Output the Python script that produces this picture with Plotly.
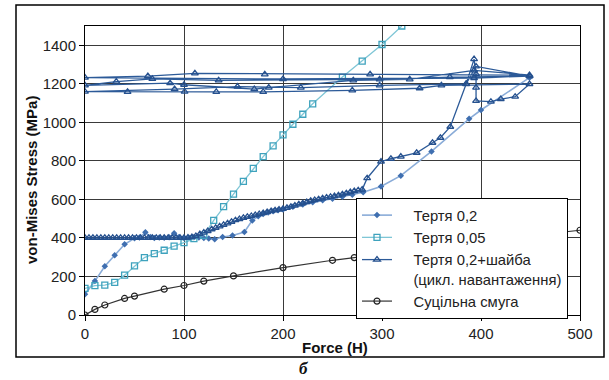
import plotly.graph_objects as go

# ---------------- data ----------------
# Тертя 0,2
f1_x = [0, 10, 20, 30, 40, 50, 55, 61, 66, 70, 75, 80, 85, 90, 95, 100, 105, 110, 115, 120, 125,
        131, 139, 149, 161, 169, 175, 180, 185, 190, 195, 200, 210, 220, 230, 240, 250, 260, 270,
        281, 299, 319, 350, 388, 400, 449]
f1_y = [108, 176, 253, 310, 367, 398, 402, 429, 405, 400, 402, 401, 403, 424, 405, 400, 401, 403,
        402, 400, 397, 393, 405, 413, 431, 491, 512, 524, 532, 538, 544, 548, 562, 574, 585, 595,
        604, 614, 624, 637, 667, 723, 849, 1018, 1064, 1232]

# Тертя 0,05
f2_x = [0, 10, 20, 30, 40, 50, 60, 70, 80, 90, 100, 110, 120, 130, 140, 150, 160, 170, 180, 190,
        200, 210, 220, 230, 260, 280, 300, 320]
f2_y = [138, 152, 155, 169, 207, 255, 298, 319, 336, 357, 376, 396, 413, 491, 562, 627, 694, 761,
        822, 878, 935, 990, 1042, 1096, 1235, 1318, 1404, 1500]

# Тертя 0,2+шайба (цикл. навантаження)
f3_x = [0, 4, 8, 12, 16, 20, 24, 28, 32, 36, 40, 44, 48, 52, 56, 60, 64, 68, 72, 76, 80, 84, 88,
        92, 96, 100, 104, 108, 112, 116, 120, 124, 128, 132, 136, 140, 144, 148, 152, 156, 160,
        164, 168, 172, 176, 180, 184, 188, 192, 196, 200, 204, 208, 212, 216, 220, 224, 228, 232,
        236, 240, 244, 248, 252, 256, 260, 264, 268, 272, 276, 280, 285, 299, 309, 319, 335, 351,
        359, 369, 385, 393, 395, 395, 395, 410, 420, 434.5, 449,
        360, 338, 270, 180, 132.6, 100.6, 43, 0,
        90.5, 154, 218, 297.6, 385, 395, 449,
        368.5, 297.6, 135, 68, 31.6, 0,
        86, 100, 171, 185.6, 271, 328, 393, 449,
        288, 181.6, 111, 63.5, 0,
        200, 393, 449]
f3_y = [400, 400, 401, 400, 400, 401, 400, 400, 401, 400, 400, 401, 400, 400, 401, 400, 400, 401,
        400, 400, 401, 400, 400, 401, 400, 400, 402, 404, 410, 420, 428, 436, 445, 452, 460, 468,
        476, 484, 492, 498, 504, 509, 514, 519, 524, 529, 534, 539, 543, 547, 551, 556, 562, 568,
        574, 580, 586, 592, 597, 601, 605, 609, 613, 617, 621, 626, 632, 638, 643, 647, 651, 710,
        796, 811, 822, 842, 894, 920, 977, 1199, 1328, 1250, 1180, 1111, 1107, 1121, 1133, 1199,
        1192, 1177, 1166, 1158, 1158, 1159, 1158, 1159,
        1172, 1185, 1180, 1192, 1200, 1290, 1240,
        1235, 1223, 1218, 1226, 1211, 1192,
        1203, 1195, 1172, 1180, 1218, 1223, 1270, 1245,
        1249, 1249, 1254, 1240, 1232,
        1225, 1230, 1240]

# Суцільна смуга
f4_x = [0, 10, 20, 40, 50, 80, 100, 120, 150, 200, 250, 272, 300, 350, 400, 450, 500]
f4_y = [0, 29, 52, 86, 98, 134, 153, 176, 203, 246, 284, 298, 316, 350, 383, 412, 440]

PAD = "\u00a0" * 4
names = [PAD + "Тертя 0,2", PAD + "Тертя 0,05",
         PAD + "Тертя 0,2+шайба<br>" + PAD + "(цикл. навантаження)", PAD + "Суцільна смуга"]

x_ticks = [0, 100, 200, 300, 400, 500]
y_ticks = [0, 200, 400, 600, 800, 1000, 1200, 1400]

# ---------------- geometry (pixels) ----------------
W, H = 609, 380
L, R, T, B = 85, 29, 26, 65
pw, ph = W - L - R, H - T - B


def px(xp):
    return (xp - L) / pw


def py(yp):
    return (H - B - yp) / ph


fig = go.Figure()

fig.add_trace(go.Scatter(
    x=f1_x, y=f1_y, mode="lines+markers", name=names[0], legendgroup="a",
    line=dict(color="#8aacd8", width=1.6),
    marker=dict(symbol="diamond", size=5, color="#3f6fb0")))
fig.add_trace(go.Scatter(
    x=f2_x, y=f2_y, mode="lines+markers", name=names[1], legendgroup="b",
    line=dict(color="#7fc6d6", width=1.3),
    marker=dict(symbol="square-open", size=6, color="#3ea2bd", line=dict(width=1.3))))
fig.add_trace(go.Scatter(
    x=f3_x, y=f3_y, mode="lines+markers", name=names[2], legendgroup="c",
    line=dict(color="#2c5a98", width=1.3),
    marker=dict(symbol="triangle-up-open", size=6, color="#25508e", line=dict(width=1.3))))
fig.add_trace(go.Scatter(
    x=f4_x, y=f4_y, mode="lines+markers", name=names[3], legendgroup="d",
    line=dict(color="#333333", width=1.2),
    marker=dict(symbol="circle-open", size=6, color="#222222", line=dict(width=1.2))))

axis_common = dict(
    showline=True, mirror=True, linecolor="#000000", linewidth=1,
    showgrid=True, gridcolor="#3a3a3a", gridwidth=1,
    ticks="outside", ticklen=5, tickcolor="#000000",
    tickfont=dict(family="Liberation Sans, Arial", size=15, color="#222222"),
    zeroline=False,
)

fig.update_xaxes(range=[0, 500], tickvals=x_ticks, **axis_common)
fig.update_yaxes(range=[0, 1500], tickvals=y_ticks, **axis_common)

fig.update_layout(
    width=W, height=H,
    margin=dict(l=L, r=R, t=T, b=B),
    paper_bgcolor="white", plot_bgcolor="white",
    showlegend=True,
    legend=dict(
        x=px(356), y=py(198), xanchor="left", yanchor="top",
        bgcolor="white", bordercolor="#000000", borderwidth=1,
        font=dict(family="Liberation Sans, Arial", size=14.8, color="#222222"),
        traceorder="grouped", tracegroupgap=0, valign="top",
        entrywidth=182, entrywidthmode="pixels",
    ),
    annotations=[
        dict(text="<b>von-Mises Stress (MPa)</b>", x=px(32), y=py(180), xref="paper", yref="paper",
             xanchor="center", yanchor="middle",
             textangle=-90, showarrow=False,
             font=dict(family="Liberation Sans, Arial", size=15, color="#111111")),
        dict(text="<b>Force (H)</b>", x=px(335), y=py(347), xref="paper", yref="paper",
             xanchor="center", yanchor="middle",
             showarrow=False, font=dict(family="Liberation Sans, Arial", size=15, color="#111111")),
        dict(text="<b><i>б</i></b>", x=px(304), y=py(368), xref="paper", yref="paper",
             xanchor="center", yanchor="middle",
             showarrow=False, font=dict(family="Liberation Serif, Times New Roman", size=17, color="#111111")),
    ],
    shapes=[
        dict(type="rect", xref="paper", yref="paper", x0=px(16), x1=px(604), y0=py(357), y1=py(5),
             line=dict(color="#000000", width=1.5), fillcolor="rgba(0,0,0,0)", layer="below"),
    ],
)

fig.write_html("out.html")
